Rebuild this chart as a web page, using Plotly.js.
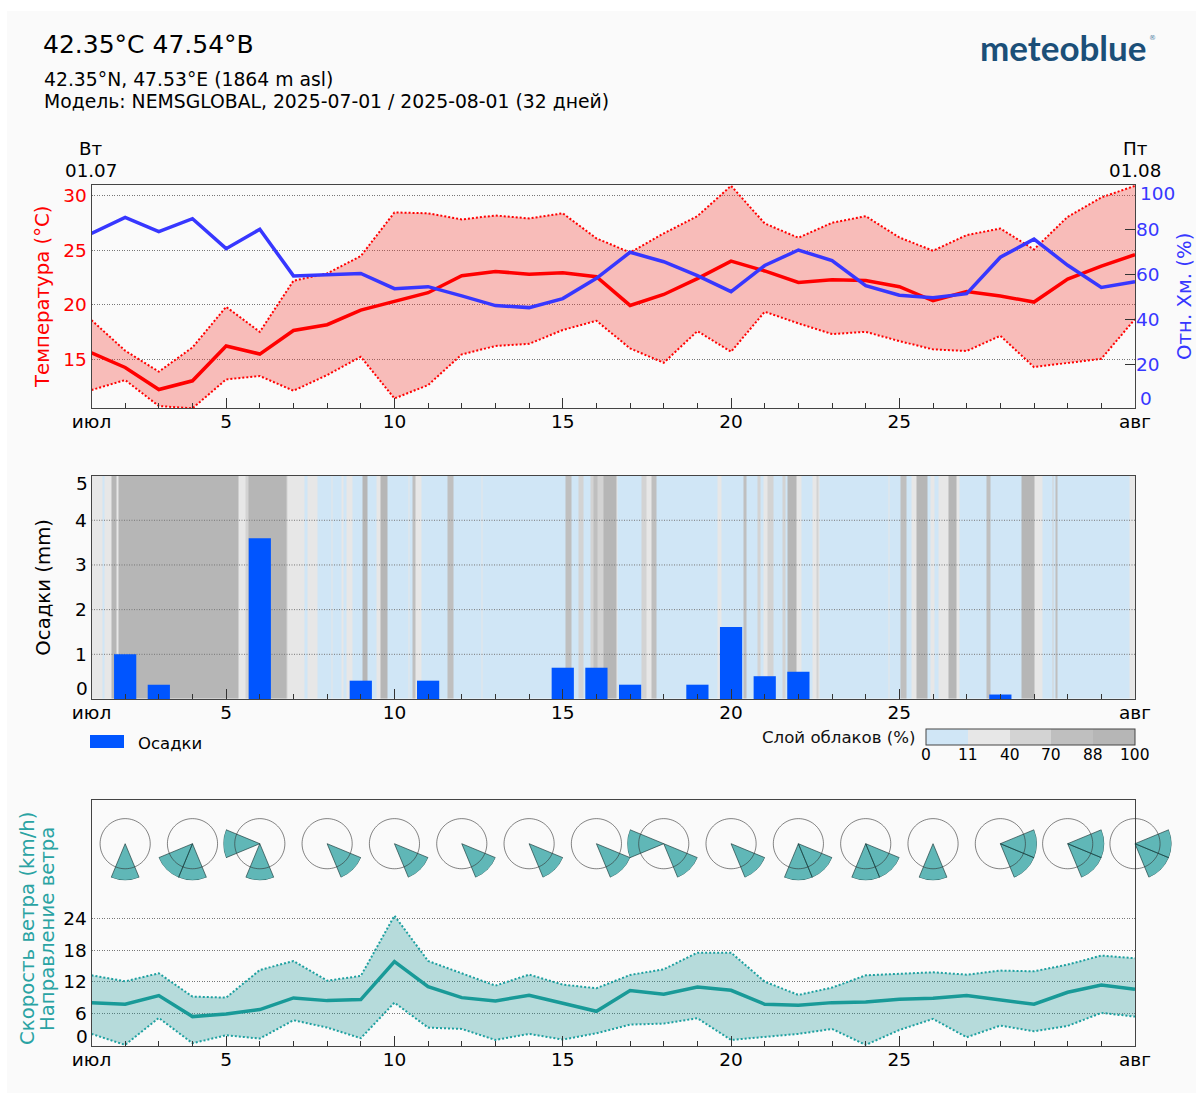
<!DOCTYPE html>
<html><head><meta charset="utf-8">
<script src="https://cdn.plot.ly/plotly-3.0.1.min.js"></script>
<style>html,body{margin:0;padding:0;background:#fff;overflow:hidden}#chart{width:1196px;height:1093px}</style>
</head><body><div id="chart"></div>
<script>
var days=[1,2,3,4,5,6,7,8,9,10,11,12,13,14,15,16,17,18,19,20,21,22,23,24,25,26,27,28,29,30,31,32];
var dayTickVals=[1,5,10,15,20,25,32];
var dayTickText=['июл','5','10','15','20','25','авг'];

var tempMean=[15.58,14.23,12.2,13.0,16.2,15.46,17.63,18.16,19.5,20.3,21.1,22.66,23.06,22.8,22.93,22.57,19.93,20.94,22.4,24.0,23.1,22.05,22.3,22.23,21.65,20.36,21.2,20.8,20.24,22.35,23.55,24.6];
var tempMax=[18.58,15.77,13.84,16.07,19.8,17.5,22.2,22.87,24.47,28.48,28.4,27.84,28.2,27.93,28.4,26.1,24.8,26.55,28.14,30.93,27.47,26.15,27.53,28.14,26.18,24.96,26.4,27.0,25.08,28.08,29.86,30.93];
var tempMin=[12.15,13.07,10.68,10.47,13.13,13.44,12.09,13.53,15.21,11.38,12.61,15.43,16.2,16.4,17.67,18.52,15.98,14.66,17.57,15.67,19.35,18.28,17.3,17.5,16.65,15.89,15.74,17.14,14.26,14.66,15.03,18.68];
var humidity=[78.2,85.3,79,84.7,71.4,80,59.3,60,60.4,53.6,54.5,50.4,46.1,45.2,49.2,58.2,69.8,65.6,59.4,52.3,63.9,70.8,66.1,55,50.7,49.6,51.4,67.6,75.6,64,54.2,56.7];

var precipDays=[2,3,6,9,11,15,16,17,19,20,21,22,28];
var precipVals=[1.0,0.32,3.6,0.41,0.41,0.7,0.7,0.32,0.32,1.61,0.51,0.61,0.1];

var cloudEdgeHours=[0,8,9,14,18,19,105,110,112,139,140,152,154,161,171,172,178,180,182,186,193,197,203,206,211,226,227,229,231,235,254,258,278,279,338,342,347,351,356,358,361,365,374,375,392,396,399,403,446,449,465,467,475,477,479,482,486,493,495,496,503,506,514,517,518,519,568,569,577,581,585,588,596,598,601,604,611,617,619,638,641,663,672,678,685,686,687,689,740,744];
var cloudLevels=[1,0,1,4,1,4,1,2,4,2,1,0,1,0,1,0,1,0,1,0,4,0,1,4,0,1,0,3,1,0,3,0,1,0,3,0,2,0,2,3,2,4,1,0,2,1,3,0,1,0,3,0,2,0,1,2,0,2,0,4,1,0,1,2,1,0,1,0,3,0,1,4,0,1,0,1,4,1,0,3,0,4,1,0,2,0,3,0,1];
var cloudTickText=['0','11','40','70','88','100'];
var cloudColors=['#d0e6f6','#e7e7e7','#d3d3d3','#bfbfbf','#b6b6b6'];

var windMean=[8.08,7.77,9.41,5.43,5.94,6.76,8.97,8.46,8.65,15.85,11.12,9.03,8.4,9.47,7.96,6.44,10.36,9.66,11.05,10.42,7.77,7.58,8.08,8.2,8.7,8.9,9.41,8.53,7.77,10.04,11.43,10.6];
var windMax=[13.26,12.13,13.64,9.22,9.03,14.27,15.98,12.25,13.14,24.57,15.98,13.64,11.3,13.39,11.5,10.8,13.33,14.4,17.56,17.56,12.06,9.54,10.93,13.26,13.5,13.83,13.39,14.15,14.02,15.29,17,16.49];
var windMin=[2.15,0.06,5.18,0.38,1.89,1.26,4.74,3.35,1.33,8.08,3.35,3.09,1.0,2.15,1.07,2.27,3.92,4.1,5.12,1.0,1.58,2.15,3.09,0.06,2.9,4.99,1.51,3.73,2.65,3.66,6.13,5.43];

var roseDays=[2,4,6,8,10,12,14,16,18,20,22,24,26,28,30,32];
var roseDirs=[['S'],['S','SW'],['S','W'],['SE'],['SE'],['SE'],['SE'],['SE'],['SE','W'],['SE'],['S','SE'],['S','SE'],['S'],['SE','E'],['SE','E'],['SE','E']];
var roseAngles={E:90,SE:135,S:180,SW:225,W:270};
var roseLength=1.46;

var W=1196,H=1093,FONT='"DejaVu Sans", sans-serif';
var PX_L=91.5,PX_R=1135;
function fx(p){return p/W;}
function fy(p){return 1-p/H;}
var xDomain=[fx(PX_L),fx(PX_R)];
var dayToPx=function(d){return PX_L+(d-1)*(PX_R-PX_L)/31;};
var AXC='#444',GRID='#777',RED='#ff0000',BLUE='#3737ff',TEAL='#199a98',TEXT='#000';
var TICK=18.5,LABEL=19.7;

function xAxisOpts(anchor){return {
  domain:xDomain,range:[1,32],anchor:anchor,tickmode:'array',tickvals:dayTickVals,ticktext:dayTickText,
  ticks:'inside',ticklen:10,tickwidth:1,tickcolor:'#333',showgrid:false,zeroline:false,ticklabelstandoff:-3,
  showline:true,linecolor:AXC,linewidth:1,mirror:true,tickfont:{family:FONT,size:TICK,color:TEXT},
  minor:{tickmode:'array',tickvals:days,ticks:'inside',ticklen:5,tickwidth:1,tickcolor:'#333',showgrid:false}
};}
function yAxisOpts(dom,range,vals,color){return {
  domain:[fy(dom[1]),fy(dom[0])],range:range,anchor:'x',tickmode:'array',tickvals:vals,ticktext:vals.map(String),
  ticks:'',showgrid:true,gridcolor:GRID,griddash:'1px,1.5px',gridwidth:1,zeroline:false,
  showline:true,linecolor:AXC,linewidth:1,mirror:true,tickfont:{family:FONT,size:TICK,color:color}
};}
var layout={
  width:W,height:H,margin:{l:0,r:0,t:0,b:0},paper_bgcolor:'#ffffff',plot_bgcolor:'#fafafa',showlegend:false,
  font:{family:FONT,color:TEXT},
  title:{text:'42.35°C 47.54°B',x:fx(43),xanchor:'left',y:fy(44),yanchor:'middle',font:{family:FONT,size:25,color:TEXT},xref:'paper',yref:'paper'},
  xaxis:xAxisOpts('y'),
  yaxis:yAxisOpts([184.5,408],[10.5,31.05],[15,20,25,30],RED),
  yaxis2:{domain:[fy(408),fy(184.5)],range:[0.6,99.9],overlaying:'y',side:'right',anchor:'x',tickmode:'array',tickvals:[20,40,60,80],
    ticks:'inside',ticklen:10,tickwidth:1,tickcolor:'#333',showgrid:false,zeroline:false,showline:false,
    tickfont:{family:FONT,size:TICK,color:BLUE},
    title:{text:'Отн. Хм. (%)',font:{family:FONT,size:LABEL,color:BLUE},standoff:22}},
  xaxis2:xAxisOpts('y3'),
  yaxis3:yAxisOpts([475.6,699],[0,5],[1,2,3,4],TEXT),
  xaxis3:{domain:xDomain,range:[1,32],overlaying:'x2',anchor:'y4',visible:false},
  yaxis4:{domain:[fy(699),fy(475.6)],range:[0,5],overlaying:'y3',anchor:'x3',visible:false},
  xaxis4:xAxisOpts('y5'),
  yaxis5:yAxisOpts([799.5,1045.5],[-0.05,46.6],[6,12,18,24],TEXT),
  shapes:[
    {type:'rect',xref:'paper',yref:'paper',x0:fx(7),x1:1,y0:0,y1:fy(11),fillcolor:'#fafafa',line:{width:0},layer:'below'},
    {type:'rect',xref:'paper',yref:'paper',x0:fx(90),x1:fx(124),y0:fy(748),y1:fy(735),fillcolor:'#0055ff',line:{width:0}}
  ],
  annotations:[]
};
layout.yaxis.title={text:'Температура (°C)',font:{family:FONT,size:LABEL,color:RED},standoff:8};
layout.yaxis.anchor='x';
layout.yaxis3.anchor='x2';
layout.yaxis3.title={text:'Осадки (mm)',font:{family:FONT,size:LABEL,color:TEXT},standoff:19};
layout.yaxis5.anchor='x4';

function note(text,px,py,size,color,xanchor,extra){
  var a={text:text,xref:'paper',yref:'paper',x:fx(px),y:fy(py),xanchor:xanchor||'left',yanchor:'middle',showarrow:false,
    font:{family:FONT,size:size,color:color||TEXT},borderpad:0,borderwidth:0};
  if(extra){for(var k in extra)a[k]=extra[k];}
  layout.annotations.push(a);
}
note('42.35°N, 47.53°E (1864 m asl)',43.5,79,18.8);
note('Модель: NEMSGLOBAL, 2025-07-01 / 2025-08-01 (32 дней)',43.5,101,18.8);
note('Вт',91,149,18.3,TEXT,'center');
note('01.07',91,171,18.3,TEXT,'center');
note('Пт',1135,149,18.3,TEXT,'center');
note('01.08',1135,171,18.3,TEXT,'center');
note('100',1140,193,TICK,BLUE);
note('0',1140,398,TICK,BLUE);
note('5',88,483,TICK,TEXT,'right');
note('0',88,688,TICK,TEXT,'right');
note('0',88,1036,TICK,TEXT,'right');
note('Осадки',138,743,16.5);
note('Слой облаков (%)',916,737,16.6,'#111','right');
note('Скорость ветра (km/h)',27,929,LABEL,'#2aa3a3','center',{textangle:-90});
note('Направление ветра',47,929,LABEL,'#2aa3a3','center',{textangle:-90});
note('meteoblue',1147,47.5,35,'#1b4f78','right',{font:{family:'Lato, sans-serif',size:35,color:'#1b4f78',weight:700}});
note('®',1148.5,38,7,'#4d7fa3','left');
cloudTickText.forEach(function(t,i){note(t,926+i*41.8,755,15.5,TEXT,'center');});

var traces=[
  {x:days,y:tempMax,xaxis:'x',yaxis:'y',mode:'lines',line:{color:RED,width:2,dash:'2px,2px'},hoverinfo:'skip'},
  {x:days,y:tempMin,xaxis:'x',yaxis:'y',mode:'lines',line:{color:RED,width:2,dash:'2px,2px'},fill:'tonexty',fillcolor:'rgba(245,60,50,0.32)',hoverinfo:'skip'},
  {x:days,y:tempMean,xaxis:'x',yaxis:'y',mode:'lines',line:{color:RED,width:3.5}},
  {x:days,y:humidity,xaxis:'x',yaxis:'y2',mode:'lines',line:{color:BLUE,width:3.5}}
];
var cloudX=cloudEdgeHours.map(function(h){return 1+h/24;});
traces.push({type:'heatmap',x:cloudX,y:[0,5],z:[cloudLevels.map(function(l){return l+0.5;})],xaxis:'x2',yaxis:'y3',
  zmin:0,zmax:5,colorscale:[[0,cloudColors[0]],[0.2,cloudColors[0]],[0.2,cloudColors[1]],[0.4,cloudColors[1]],[0.4,cloudColors[2]],[0.6,cloudColors[2]],[0.6,cloudColors[3]],[0.8,cloudColors[3]],[0.8,cloudColors[4]],[1,cloudColors[4]]],
  showscale:true,hoverinfo:'skip',
  colorbar:{orientation:'h',x:fx(926),xanchor:'left',xpad:0,ypad:0,y:fy(728.5),yanchor:'top',len:209/W,lenmode:'fraction',thickness:15.5,thicknessmode:'pixels',
    showticklabels:false,ticks:'',outlinecolor:'#444',outlinewidth:1,borderwidth:0}
});
var gridX=[],gridY=[];
[1,2,3,4].forEach(function(v){gridX.push(1,32,null);gridY.push(v,v,null);});
traces.push({x:gridX,y:gridY,xaxis:'x2',yaxis:'y3',mode:'lines',line:{color:'#777',width:1,dash:'1px,1.5px'},hoverinfo:'skip'});
traces.push({type:'bar',x:precipDays,y:precipVals,width:0.66,xaxis:'x3',yaxis:'y4',marker:{color:'#0055ff',line:{width:0}}});
traces.push(
  {x:days,y:windMax,xaxis:'x4',yaxis:'y5',mode:'lines',line:{color:'#1ea0a0',width:2,dash:'2px,2px'},hoverinfo:'skip'},
  {x:days,y:windMin,xaxis:'x4',yaxis:'y5',mode:'lines',line:{color:'#1ea0a0',width:2,dash:'2px,2px'},fill:'tonexty',fillcolor:'rgba(25,150,148,0.3)',hoverinfo:'skip'},
  {x:days,y:windMean,xaxis:'x4',yaxis:'y5',mode:'lines',line:{color:TEAL,width:3.5}}
);
var ROSE_R=36.6,ROSE_CY=843.7;
var circleT=[],circleR=[];
for(var a=0;a<=360;a+=5){circleT.push(a);circleR.push(1);}
roseDays.forEach(function(d,i){
  var name=i===0?'polar':'polar'+(i+1);
  var cx=dayToPx(d);
  layout[name]={
    domain:{x:[fx(cx-ROSE_R),fx(cx+ROSE_R)],y:[fy(ROSE_CY+ROSE_R),fy(ROSE_CY-ROSE_R)]},
    bgcolor:'rgba(0,0,0,0)',
    radialaxis:{visible:false,range:[0,roseLength]},
    angularaxis:{visible:false,direction:'clockwise',rotation:90}
  };
  traces.push({type:'barpolar',subplot:name,theta:roseDirs[i].map(function(k){return roseAngles[k];}),
    r:roseDirs[i].map(function(){return roseLength;}),width:45,
    marker:{color:'rgba(22,150,150,0.68)',line:{color:'rgba(20,50,50,0.8)',width:0.8}},hoverinfo:'skip'});
  traces.push({type:'scatterpolar',subplot:name,theta:circleT,r:circleR,mode:'lines',line:{color:'rgba(50,50,50,0.6)',width:1},hoverinfo:'skip'});
});
Plotly.newPlot('chart',traces,layout,{staticPlot:true,displayModeBar:false});
</script></body></html>
